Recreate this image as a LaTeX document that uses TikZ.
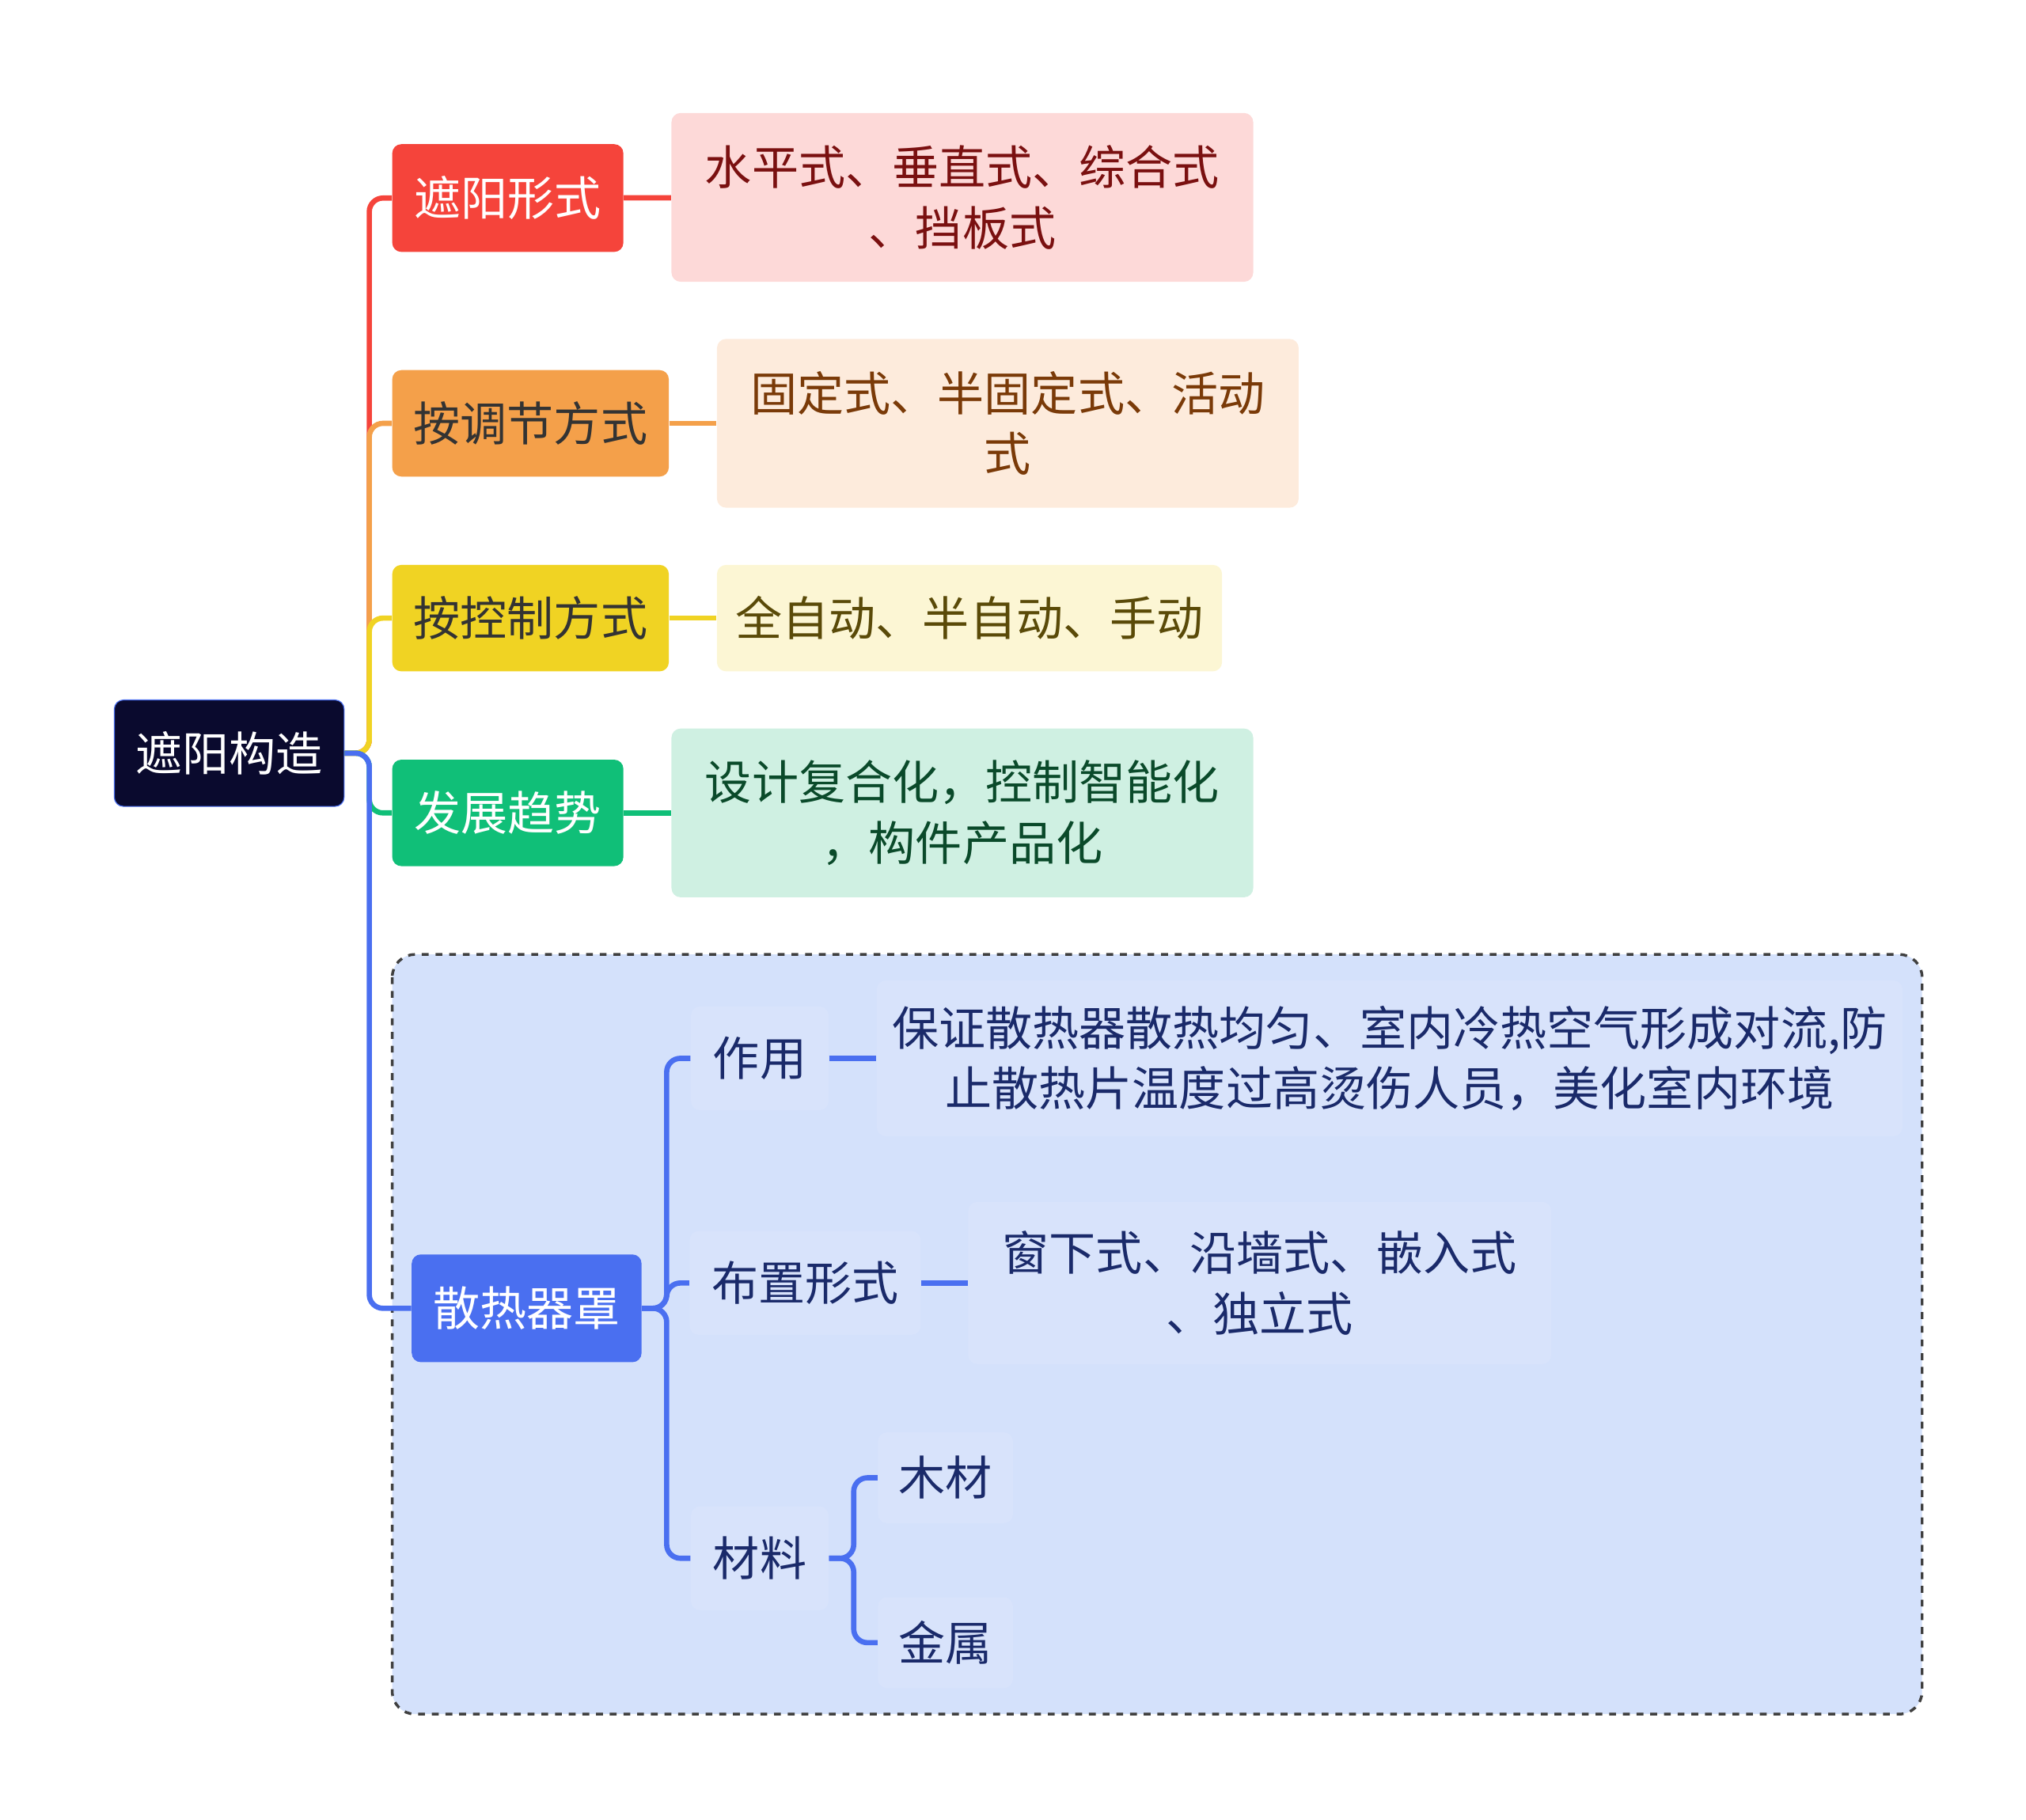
\documentclass[tikz,border=0pt]{standalone}
\usepackage{fontspec}
\setmainfont{Noto Sans CJK SC}
\usetikzlibrary{positioning}
\definecolor{navyroot}{HTML}{0A0A2E}
\definecolor{redc}{HTML}{F5443B}\definecolor{redl}{HTML}{FDD9D8}\definecolor{redt}{HTML}{7A1010}
\definecolor{orac}{HTML}{F4A04A}\definecolor{oral}{HTML}{FDEBDC}\definecolor{orat}{HTML}{7A3A08}
\definecolor{yelc}{HTML}{F0D323}\definecolor{yell}{HTML}{FCF6D4}\definecolor{yelt}{HTML}{5A4A08}
\definecolor{grec}{HTML}{10BF78}\definecolor{grel}{HTML}{CFF0E2}\definecolor{gret}{HTML}{0A4A2A}
\definecolor{bluc}{HTML}{4A6FF0}\definecolor{blul}{HTML}{D4E1FB}\definecolor{blut}{HTML}{1A2A6A}
\definecolor{blus}{HTML}{D8E3FB}
\tikzset{
  box/.style={rounded corners=4pt, inner sep=0pt, align=center, font=\fontsize{20.5}{26.5}\selectfont},
  topic/.style={box, fill=#1},
  detail/.style={box, fill=#1},
  sub/.style={box, fill=blus, text=blut},
  link/.style={line width=2.3pt, rounded corners=6pt},
}
\begin{document}
\begin{tikzpicture}[x=0.02cm, y=-0.02cm]
    % canvas
    \useasboundingbox (0,0) rectangle (1560,1401);
    % dashed group
    \draw[fill=blul, draw=black!75, dashed, line width=1.2pt, rounded corners=10pt] (302,735) rectangle (1480,1320);
    % root
    \node[box, fill=navyroot, draw=bluc, text=white, minimum width=3.54cm, minimum height=1.64cm] (root) at (176.5,580) {遮阳构造};
    % topics
    \node[topic=redc, text=white, minimum width=3.56cm, minimum height=1.66cm] (form) at (391,152.5) {遮阳形式};
    \node[topic=orac, text=black!80, minimum width=4.26cm, minimum height=1.64cm] (adjust) at (408.5,326) {按调节方式};
    \node[topic=yelc, text=black!80, minimum width=4.26cm, minimum height=1.64cm] (control) at (408.5,476) {按控制方式};
    \node[topic=grec, text=white, minimum width=3.56cm, minimum height=1.64cm] (trend) at (391,626) {发展趋势};
    \node[topic=bluc, text=white, minimum width=3.54cm, minimum height=1.66cm] (cover) at (405.5,1007.5) {散热器罩};
    % details
    \node[detail=redl, text=redt, minimum width=8.96cm, minimum height=2.6cm] (formd) at (741,152) {水平式、垂直式、综合式\\、挡板式};
    \node[detail=oral, text=orat, minimum width=8.96cm, minimum height=2.6cm] (adjustd) at (776,326) {固定式、半固定式、活动\\式};
    \node[detail=yell, text=yelt, minimum width=7.78cm, minimum height=1.64cm] (controld) at (746.5,476) {全自动、半自动、手动};
    \node[detail=grel, text=gret, minimum width=8.96cm, minimum height=2.6cm] (trendd) at (741,626) {设计复合化，控制智能化\\，构件产品化};
    % radiator cover
    \node[sub, minimum width=2.12cm, minimum height=1.6cm] (use) at (585,815) {作用};
    \node[sub, minimum width=15.8cm, minimum height=2.4cm] (used) at (1070,815) {保证散热器散热均匀、室内冷热空气形成对流,防\\止散热片温度过高烫伤人员，美化室内环境};
    \node[sub, minimum width=3.56cm, minimum height=1.6cm] (layout) at (620,988) {布置形式};
    \node[sub, minimum width=8.98cm, minimum height=2.5cm] (layoutd) at (970,988) {窗下式、沿墙式、嵌入式\\、独立式};
    \node[sub, minimum width=2.12cm, minimum height=1.6cm] (material) at (585,1200) {材料};
    \node[sub, minimum width=2.08cm, minimum height=1.4cm] (wood) at (728,1138) {木材};
    \node[sub, minimum width=2.08cm, minimum height=1.4cm] (metal) at (728,1265) {金属};
    % links
    \draw[link, redc] (root.east) -- ++(19,0) |- (form.west);
    \draw[link, orac] (root.east) -- ++(19,0) |- (adjust.west);
    \draw[link, yelc] (root.east) -- ++(19,0) |- (control.west);
    \draw[link, grec] (root.east) -- ++(19,0) |- (trend.west);
    \draw[link, bluc] (root.east) -- ++(19,0) |- (cover.west);
    \draw[link, redc] (form) -- (formd);
    \draw[link, orac] (adjust) -- (adjustd);
    \draw[link, yelc] (control) -- (controld);
    \draw[link, grec] (trend) -- (trendd);
    \draw[link, bluc] (cover.east) -- ++(19,0) |- (use.west);
    \draw[link, bluc] (cover.east) -- ++(19,0) |- (layout.west);
    \draw[link, bluc] (cover.east) -- ++(19,0) |- (material.west);
    \draw[link, bluc] (use) -- (used);
    \draw[link, bluc] (layout) -- (layoutd);
    \draw[link, bluc] (material.east) -- ++(19,0) |- (wood.west);
    \draw[link, bluc] (material.east) -- ++(19,0) |- (metal.west);
\end{tikzpicture}
\end{document}
